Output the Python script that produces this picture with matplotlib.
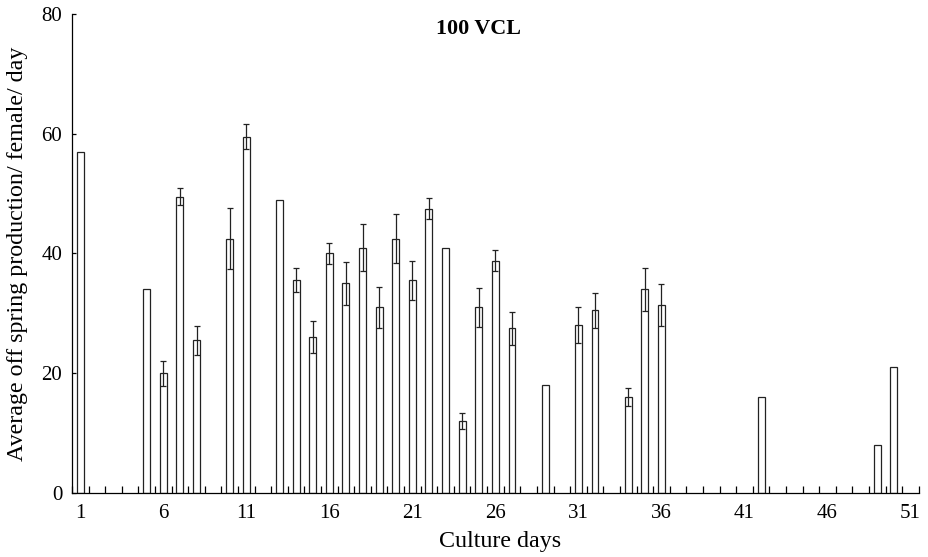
import matplotlib
matplotlib.use("Agg")
import matplotlib.pyplot as plt
from matplotlib.ticker import FixedLocator

# culture day, mean offspring production, error (0 = no error bar)
days = [1, 5, 6, 7, 8, 10, 11, 13, 14, 15, 16, 17, 18, 19, 20, 21, 22, 23, 24, 25,
        26, 27, 29, 31, 32, 34, 35, 36, 42, 49, 50]
means = [57.0, 34.0, 20.0, 49.5, 25.5, 42.5, 59.5, 49.0, 35.5, 26.0, 40.0, 35.0, 41.0,
         31.0, 42.5, 35.5, 47.5, 41.0, 12.0, 31.0, 38.8, 27.5, 18.0, 28.0, 30.5, 16.0,
         34.0, 31.4, 16.0, 8.0, 21.1]
errors = [0, 0, 2.1, 1.4, 2.4, 5.1, 2.1, 0, 2.0, 2.7, 1.7, 3.6, 4.0, 3.4, 4.1, 3.3,
          1.8, 0, 1.3, 3.2, 1.8, 2.7, 0, 3.0, 2.9, 1.5, 3.6, 3.5, 0, 0, 0]
major_days = [1, 6, 11, 16, 21, 26, 31, 36, 41, 46, 51]
y_ticks = [0, 20, 40, 60, 80]

plt.rcParams['font.family'] = ['Liberation Serif', 'DejaVu Serif']

fig = plt.figure(figsize=(9.29, 5.57), dpi=100)
ax = fig.add_axes([0.0775, 0.1149, 0.9115, 0.86])

ax.bar(days, means, width=0.42, color='white', edgecolor='#222222', linewidth=0.9, zorder=2)

# error bars only where the reference shows them
ed = [d for d, e in zip(days, errors) if e > 0]
em = [m for m, e in zip(means, errors) if e > 0]
ee = [e for e in errors if e > 0]
ax.errorbar(ed, em, yerr=ee, fmt='none', ecolor='#222222', elinewidth=0.9,
            capsize=2.0, capthick=0.9, zorder=3)

ax.set_xlim(0.5, 51.5)
ax.set_ylim(0, 80)

ax.spines['top'].set_visible(False)
ax.spines['right'].set_visible(False)
ax.spines['left'].set_linewidth(0.9)
ax.spines['bottom'].set_linewidth(0.9)

ax.xaxis.set_major_locator(FixedLocator(major_days))
ax.xaxis.set_minor_locator(FixedLocator([d + 0.5 for d in range(0, 52)]))
ax.tick_params(axis='x', which='major', length=0, pad=8, labelsize=15)
ax.tick_params(axis='x', which='minor', direction='in', length=5, width=0.9)
ax.set_yticks(y_ticks)
ax.tick_params(axis='y', direction='in', length=3, width=0.9, pad=7, labelsize=15)

ax.set_xlabel('Culture days', fontsize=17.3)
ax.xaxis.set_label_coords(0.5057, -0.079)
ax.set_ylabel('Average off spring production/ female/ day', fontsize=17.3)
ax.yaxis.set_label_coords(-0.052, 0.5)
ax.text(0.4804, 0.9583, '100 VCL', transform=ax.transAxes, ha='center', va='baseline',
        fontsize=15.8, fontweight='bold')

fig.savefig('out.png', dpi=100)
